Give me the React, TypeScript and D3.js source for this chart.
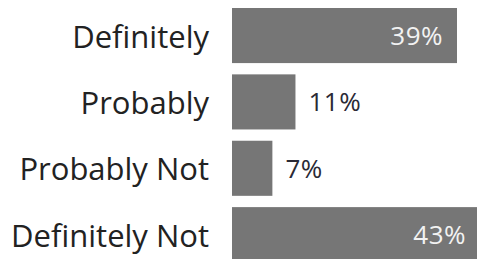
import React from "react";
import * as d3 from "d3";

const categories = ["Definitely", "Probably", "Probably Not", "Definitely Not"];
const values = [39, 11, 7, 43];
const valueLabels = ["39%", "11%", "7%", "43%"];

const W = 477;
const H = 259;

export default function App() {
  const y = d3
    .scaleBand<string>()
    .domain(categories)
    .range([8, 262.2])
    .paddingInner(0.17)
    .paddingOuter(0);
  const x = d3.scaleLinear().domain([0, 39]).range([232, 457]);
  const bw = y.bandwidth();

  return (
    <svg
      width={W}
      height={H}
      style={{ position: "absolute", left: 0, top: 0, display: "block" }}
      fontFamily="'Open Sans', sans-serif"
    >
      <rect width={W} height={H} fill="#ffffff" />
      {categories.map((c, i) => {
        const yc = (y(c) as number) + bw / 2;
        const inside = values[i] > 20;
        const xe = x(values[i]);
        return (
          <g key={c}>
            <rect x={x(0)} y={y(c)} width={xe - x(0)} height={bw} fill="#767676" />
            <text
              x={209}
              y={yc}
              dy="0.39em"
              textAnchor="end"
              fontSize={31}
              fill="#222222"
            >
              {c}
            </text>
            <text
              x={inside ? xe - 14 : xe + 13}
              y={yc}
              dy="0.36em"
              textAnchor={inside ? "end" : "start"}
              fontSize={26}
              letterSpacing={0.5}
              fill={inside ? "#f2f2f2" : "#2a2a35"}
            >
              {valueLabels[i]}
            </text>
          </g>
        );
      })}
    </svg>
  );
}
